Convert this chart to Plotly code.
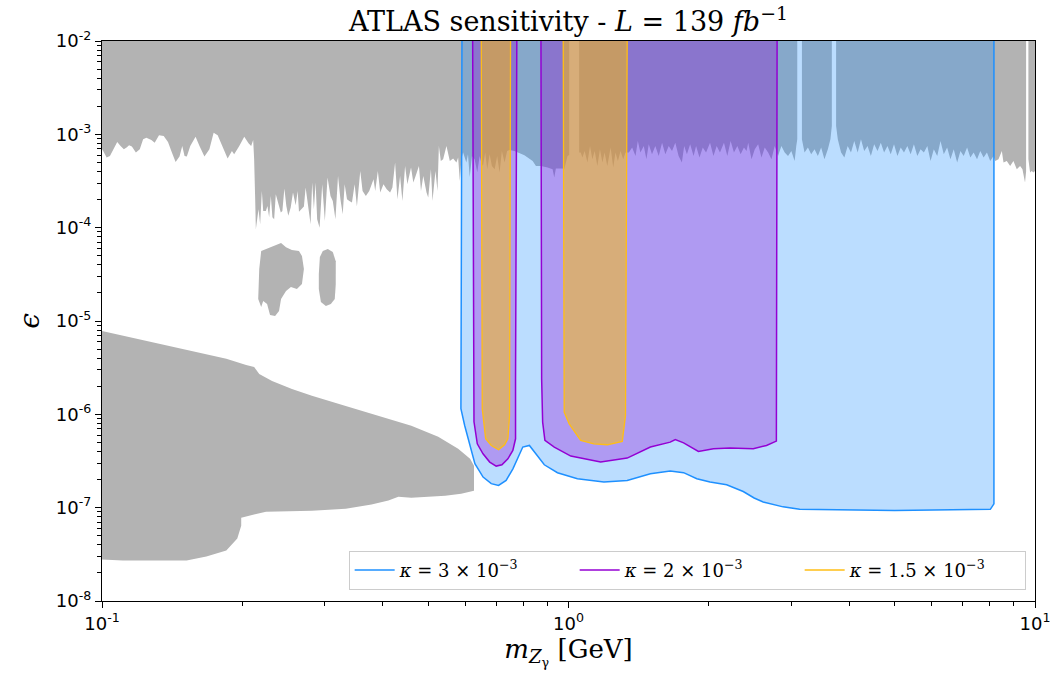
import plotly.graph_objects as go

# ---------------- data (mass in GeV, epsilon) ----------------
EPS_TOP = 1e-2

# upper edge of the existing exclusion (grey), read left to right
excl_boundary = [
    (0.1000, 6.91e-4), (0.1006, 6.63e-4), (0.1023, 5.63e-4), (0.1040, 5.86e-4), (0.1057, 6.91e-4),
    (0.1078, 8.27e-4), (0.1096, 7.50e-4), (0.1114, 6.91e-4), (0.1129, 7.21e-4), (0.1143, 7.63e-4),
    (0.1159, 7.39e-4), (0.1182, 6.37e-4), (0.1205, 6.91e-4), (0.1225, 8.84e-4), (0.1245, 9.22e-4),
    (0.1276, 8.69e-4), (0.1297, 8.15e-4), (0.1325, 9.76e-4), (0.1356, 9.59e-4), (0.1385, 8.27e-4),
    (0.1408, 6.63e-4), (0.1438, 5.05e-4), (0.1466, 5.77e-4), (0.1486, 7.50e-4), (0.1503, 5.86e-4),
    (0.1520, 5.77e-4), (0.1546, 7.50e-4), (0.1587, 9.45e-4), (0.1618, 7.50e-4), (0.1658, 5.77e-4),
    (0.1699, 6.91e-4), (0.1735, 1.042e-3), (0.1770, 9.76e-4), (0.1813, 7.21e-4), (0.1859, 5.50e-4),
    (0.1899, 6.63e-4), (0.1920, 6.11e-4), (0.1969, 7.50e-4), (0.2018, 9.45e-4), (0.2061, 8.01e-4),
    (0.2088, 7.50e-4), (0.2109, 8.69e-4), (0.2119, 5.40e-4), (0.2130, 2.00e-4), (0.2137, 9.64e-5),
    (0.2165, 1.58e-4), (0.2183, 1.09e-4), (0.2201, 2.47e-4), (0.2216, 1.51e-4), (0.2245, 1.51e-4),
    (0.2263, 1.71e-4), (0.2282, 1.29e-4), (0.2301, 2.19e-4), (0.2319, 1.29e-4), (0.2339, 1.23e-4),
    (0.2358, 2.28e-4), (0.2377, 1.93e-4), (0.2417, 1.45e-4), (0.2436, 1.51e-4), (0.2460, 2.63e-4),
    (0.2484, 1.71e-4), (0.2508, 1.34e-4), (0.2538, 1.64e-4), (0.2567, 2.38e-4), (0.2601, 1.74e-4),
    (0.2627, 2.47e-4), (0.2644, 1.48e-4), (0.2679, 1.58e-4), (0.2709, 1.69e-4), (0.2732, 2.69e-4),
    (0.2767, 1.71e-4), (0.2800, 1.09e-4), (0.2822, 3.04e-4), (0.2846, 1.58e-4), (0.2870, 3.04e-4),
    (0.2892, 1.23e-4), (0.2927, 1.00e-4), (0.2965, 2.92e-4), (0.3004, 1.18e-4), (0.3044, 3.44e-4),
    (0.3089, 2.19e-4), (0.3124, 1.93e-4), (0.3165, 1.23e-4), (0.3206, 3.58e-4), (0.3244, 2.02e-4),
    (0.3281, 1.39e-4), (0.3313, 2.92e-4), (0.3351, 2.02e-4), (0.3390, 1.93e-4), (0.3434, 1.86e-4),
    (0.3480, 2.92e-4), (0.3519, 1.69e-4), (0.3578, 4.05e-4), (0.3619, 2.47e-4), (0.3678, 2.19e-4),
    (0.3740, 2.47e-4), (0.3820, 3.30e-4), (0.3852, 2.47e-4), (0.3902, 4.05e-4), (0.3948, 2.38e-4),
    (0.4012, 2.92e-4), (0.4077, 2.58e-4), (0.4146, 2.38e-4), (0.4193, 2.69e-4), (0.4249, 4.98e-4),
    (0.4298, 2.02e-4), (0.4355, 3.58e-4), (0.4405, 1.93e-4), (0.4464, 4.58e-4), (0.4514, 2.92e-4),
    (0.4597, 4.40e-4), (0.4649, 3.04e-4), (0.4702, 3.58e-4), (0.4780, 4.58e-4), (0.4828, 2.47e-4),
    (0.4883, 3.58e-4), (0.4962, 2.38e-4), (0.5004, 2.10e-4), (0.5071, 4.22e-4), (0.5110, 1.93e-4),
    (0.5186, 4.05e-4), (0.5238, 2.47e-4), (0.5274, 7.50e-4), (0.5325, 5.18e-4), (0.5386, 5.40e-4),
    (0.5475, 7.50e-4), (0.5567, 5.18e-4), (0.5658, 5.50e-4), (0.5751, 4.98e-4), (0.5800, 5.63e-4),
    (0.5848, 3.17e-4), (0.5894, 5.40e-4), (0.5943, 6.42e-4), (0.6039, 4.98e-4), (0.6089, 6.11e-4),
    (0.6141, 3.47e-4), (0.6210, 5.86e-4), (0.6292, 5.40e-4), (0.6374, 3.92e-4), (0.6450, 5.86e-4),
    (0.6501, 4.98e-4), (0.6555, 4.58e-4), (0.6630, 6.37e-4), (0.6696, 4.22e-4), (0.6775, 6.11e-4),
    (0.6852, 4.58e-4), (0.6944, 4.22e-4), (0.7033, 5.86e-4), (0.7116, 3.89e-4), (0.7197, 6.63e-4),
    (0.7294, 4.98e-4), (0.7387, 6.63e-4), (0.7476, 6.79e-4), (0.7660, 6.63e-4), (0.8045, 5.96e-4),
    (0.8379, 5.18e-4), (0.8517, 4.58e-4), (0.8728, 4.58e-4), (0.9020, 4.40e-4), (0.9245, 4.22e-4),
    (0.9322, 3.44e-4), (0.9395, 4.30e-4), (0.9710, 4.30e-4), (0.9790, 4.22e-4), (0.9952, 5.86e-4),
    (1.0034, 6.00e-4),
    (1.054, 6.37e-4), (1.062, 6.37e-4), (1.071, 5.63e-4), (1.083, 6.63e-4), (1.098, 4.98e-4),
    (1.112, 7.50e-4), (1.125, 5.40e-4), (1.138, 6.63e-4), (1.153, 4.58e-4), (1.168, 6.91e-4),
    (1.182, 4.98e-4), (1.195, 6.37e-4), (1.211, 4.58e-4), (1.231, 7.21e-4), (1.247, 4.40e-4),
    (1.261, 6.37e-4), (1.276, 5.18e-4), (1.293, 6.63e-4), (1.310, 5.40e-4), (1.325, 6.37e-4),
    (1.347, 6.37e-4), (1.369, 7.21e-4), (1.392, 5.86e-4), (1.408, 8.48e-4), (1.426, 6.37e-4),
    (1.450, 7.50e-4), (1.469, 5.40e-4), (1.486, 7.82e-4), (1.510, 6.11e-4), (1.535, 7.50e-4),
    (1.561, 5.86e-4), (1.587, 8.15e-4), (1.613, 6.11e-4), (1.640, 7.50e-4), (1.667, 6.63e-4),
    (1.694, 8.15e-4), (1.722, 5.86e-4), (1.750, 4.98e-4), (1.770, 7.50e-4), (1.794, 6.11e-4),
    (1.823, 7.82e-4), (1.854, 5.86e-4), (1.877, 7.50e-4), (1.909, 5.63e-4), (1.940, 7.21e-4),
    (1.972, 6.37e-4), (2.011, 8.15e-4), (2.045, 5.86e-4), (2.078, 7.50e-4), (2.112, 6.37e-4),
    (2.154, 8.15e-4), (2.190, 5.86e-4), (2.226, 8.48e-4), (2.263, 6.37e-4), (2.301, 7.50e-4),
    (2.339, 6.11e-4), (2.377, 7.21e-4), (2.408, 6.63e-4), (2.428, 8.15e-4), (2.468, 5.40e-4),
    (2.508, 6.91e-4), (2.550, 7.82e-4), (2.592, 5.63e-4), (2.634, 7.21e-4), (2.679, 6.37e-4),
    (2.723, 5.40e-4), (2.767, 7.50e-4), (2.813, 5.86e-4), (2.860, 7.50e-4), (2.907, 6.37e-4),
    (2.955, 5.86e-4), (3.004, 6.63e-4), (3.053, 5.18e-4), (3.078, 7.50e-4), (3.093, 8.84e-4),
    (3.165, 8.84e-4), (3.206, 6.37e-4), (3.260, 7.21e-4), (3.313, 6.11e-4), (3.368, 6.91e-4),
    (3.424, 5.86e-4), (3.480, 7.21e-4), (3.537, 5.40e-4), (3.597, 6.91e-4), (3.643, 8.84e-4),
    (3.668, 1.23e-3),
    (3.747, 1.23e-3), (3.778, 8.84e-4), (3.840, 6.37e-4), (3.902, 5.63e-4), (3.967, 7.50e-4),
    (4.032, 6.37e-4), (4.098, 8.48e-4), (4.167, 6.37e-4), (4.236, 8.84e-4), (4.304, 6.63e-4),
    (4.376, 7.50e-4), (4.448, 5.86e-4), (4.521, 7.82e-4), (4.597, 6.63e-4), (4.672, 8.15e-4),
    (4.748, 6.37e-4), (4.828, 7.50e-4), (4.906, 6.11e-4), (4.986, 7.82e-4), (5.071, 5.86e-4),
    (5.154, 7.21e-4), (5.238, 6.37e-4), (5.325, 7.50e-4), (5.413, 6.11e-4), (5.501, 7.82e-4),
    (5.594, 5.86e-4), (5.686, 6.91e-4), (5.779, 6.37e-4), (5.877, 7.50e-4), (5.972, 5.18e-4),
    (6.069, 6.91e-4), (6.172, 5.86e-4), (6.272, 8.48e-4), (6.375, 6.11e-4), (6.481, 7.21e-4),
    (6.588, 5.40e-4), (6.696, 6.91e-4), (6.810, 4.98e-4), (6.921, 6.63e-4), (7.033, 5.86e-4),
    (7.152, 7.21e-4), (7.268, 5.63e-4), (7.387, 6.37e-4), (7.512, 5.40e-4), (7.634, 6.63e-4),
    (7.760, 5.63e-4), (7.889, 6.37e-4), (8.017, 5.18e-4), (8.149, 5.86e-4), (8.216, 5.18e-4),
    (8.350, 5.40e-4), (8.490, 6.63e-4), (8.560, 4.98e-4), (8.700, 5.18e-4), (8.846, 4.58e-4),
    (8.990, 5.18e-4), (9.140, 4.22e-4), (9.290, 4.58e-4), (9.400, 4.22e-4), (9.520, 3.04e-4),
    (9.570, 4.00e-4),
    (9.680, 5.40e-4), (9.760, 3.89e-4), (9.840, 4.05e-4), (9.920, 3.89e-4), (10.00, 4.05e-4),
]
# narrow mass windows (resonances) not covered by the grey exclusion
excl_gaps = [(1.0034, 1.054), (3.093, 3.165), (3.668, 3.747), (9.57, 9.68)]

# isolated excluded islands around 1e-5
island_a = [
    (0.2162, 1.72e-5), (0.2173, 3.60e-5), (0.2194, 5.61e-5), (0.2248, 5.89e-5), (0.2303, 6.18e-5),
    (0.2361, 6.50e-5), (0.2420, 6.83e-5), (0.2480, 6.18e-5), (0.2553, 5.75e-5), (0.2644, 5.61e-5),
    (0.2683, 4.96e-5), (0.2709, 3.60e-5), (0.2683, 2.49e-5), (0.2617, 2.20e-5), (0.2541, 2.31e-5),
    (0.2480, 2.09e-5), (0.2420, 1.72e-5), (0.2396, 1.28e-5), (0.2350, 1.13e-5), (0.2292, 1.16e-5),
    (0.2259, 1.52e-5), (0.2216, 1.64e-5), (0.2194, 1.41e-5),
]
island_b = [
    (0.2916, 3.18e-5), (0.2931, 4.84e-5), (0.2974, 5.61e-5), (0.3048, 5.89e-5), (0.3124, 5.47e-5),
    (0.3170, 4.38e-5), (0.3170, 2.49e-5), (0.3155, 1.72e-5), (0.3094, 1.52e-5), (0.3019, 1.45e-5),
    (0.2946, 1.60e-5), (0.2916, 2.20e-5),
]
# low-epsilon (beam dump) exclusion
beam_dump = [
    (0.1000, 7.82e-6), (0.1164, 6.58e-6), (0.1396, 5.41e-6), (0.1595, 4.66e-6), (0.1847, 3.93e-6),
    (0.2037, 3.38e-6), (0.2119, 3.22e-6), (0.2173, 2.71e-6), (0.2315, 2.28e-6), (0.2554, 1.87e-6),
    (0.2818, 1.58e-6), (0.3330, 1.23e-6), (0.3915, 9.64e-7), (0.4603, 7.54e-7), (0.5257, 5.74e-7),
    (0.5800, 4.27e-7), (0.6152, 3.34e-7), (0.6272, 2.81e-7), (0.6272, 1.52e-7), (0.5886, 1.41e-7),
    (0.5441, 1.34e-7), (0.4603, 1.28e-7), (0.4318, 1.31e-7), (0.4111, 1.19e-7), (0.3782, 1.08e-7),
    (0.3330, 9.76e-8), (0.2818, 9.29e-8), (0.2247, 9.06e-8), (0.1988, 7.82e-8), (0.1988, 6.42e-8),
    (0.1950, 4.66e-8), (0.1847, 3.47e-8), (0.1674, 2.99e-8), (0.1518, 2.71e-8), (0.1109, 2.71e-8),
    (0.1000, 2.78e-8),
]

# ATLAS sensitivity regions
kappa_3e3 = [
    (0.591, 1e-2), (0.588, 1.15e-6), (0.599, 7.6e-7), (0.614, 4.64e-7), (0.630, 2.96e-7),
    (0.656, 2.13e-7), (0.683, 1.81e-7), (0.708, 1.73e-7), (0.735, 1.96e-7), (0.760, 2.61e-7),
    (0.779, 3.48e-7), (0.798, 4.46e-7), (0.8245, 4.64e-7), (0.852, 3.78e-7), (0.8875, 2.88e-7),
    (0.947, 2.37e-7), (1.045, 2.04e-7), (1.191, 1.88e-7), (1.336, 1.96e-7), (1.498, 2.31e-7),
    (1.652, 2.47e-7), (1.765, 2.37e-7), (1.884, 2.04e-7), (2.011, 1.88e-7), (2.183, 1.76e-7),
    (2.369, 1.49e-7), (2.50, 1.27e-7), (2.614, 1.15e-7), (2.884, 1.02e-7), (3.13, 9.6e-8),
    (5.0, 9.35e-8), (8.02, 9.6e-8), (8.165, 1.1e-7), (8.165, 1e-2),
]
kappa_2e3_a = [
    (0.6231, 1e-2), (0.6272, 8.32e-7), (0.6375, 4.83e-7), (0.6558, 3.78e-7), (0.6778, 3.08e-7),
    (0.6998, 2.79e-7), (0.7199, 2.88e-7), (0.7414, 3.34e-7), (0.7598, 4.10e-7), (0.7700, 5.47e-7),
    (0.7700, 2.4e-6), (0.7748, 1e-2),
]
kappa_2e3_b = [
    (0.8729, 1e-2), (0.8758, 2.40e-6), (0.8802, 8.26e-7), (0.8901, 5.25e-7), (0.9322, 4.46e-7),
    (1.0114, 3.57e-7), (1.172, 3.08e-7), (1.336, 3.40e-7), (1.498, 4.46e-7), (1.652, 5.04e-7),
    (1.694, 5.37e-7), (1.765, 4.95e-7), (1.899, 4.00e-7), (2.045, 4.28e-7), (2.218, 4.35e-7),
    (2.489, 4.28e-7), (2.657, 4.64e-7), (2.790, 5.17e-7), (2.800, 1e-2),
]
kappa_15e4_a = [
    (0.6501, 1e-2), (0.6533, 1.145e-6), (0.6644, 5.47e-7), (0.6831, 4.64e-7), (0.7083, 4.17e-7),
    (0.7294, 4.72e-7), (0.7414, 5.47e-7), (0.7476, 9.70e-7), (0.7512, 1e-2),
]
kappa_15e4_b = [
    (0.9743, 1e-2), (0.979, 1.055e-6), (1.0034, 7.91e-7), (1.062, 5.25e-7), (1.134, 4.83e-7),
    (1.211, 4.72e-7), (1.304, 5.12e-7), (1.325, 9.70e-7), (1.336, 1e-2),
]

legend_labels = [
    "<i>κ</i> = 3 × 10<sup>−3</sup>",
    "<i>κ</i> = 2 × 10<sup>−3</sup>",
    "<i>κ</i> = 1.5 × 10<sup>−3</sup>",
]

# ---------------- styling ----------------
GREY = "#b3b3b3"
BLUE, BLUE_FILL = "rgb(30,144,255)", "rgba(30,144,255,0.3)"
PURPLE, PURPLE_FILL = "rgb(148,0,211)", "rgba(148,0,211,0.3)"
ORANGE, ORANGE_FILL = "rgb(255,190,20)", "rgba(255,192,0,0.5)"
SERIF = "DejaVu Serif, Liberation Serif, serif"
SANS = "DejaVu Sans, sans-serif"

fig = go.Figure()


def unzip(pts):
    return [p[0] for p in pts], [p[1] for p in pts]


def poly(pts, fill, line=None, width=0):
    x, y = unzip(pts)
    fig.add_trace(go.Scatter(
        x=x, y=y, mode="lines", fill="toself", fillcolor=fill,
        line=dict(color=line or fill, width=width),
        hoverinfo="skip", showlegend=False))


# grey exclusion from above, split at the resonance windows
edges = [excl_boundary[0][0]] + [v for g in excl_gaps for v in g] + [excl_boundary[-1][0]]
for lo, hi in zip(edges[0::2], edges[1::2]):
    seg = [p for p in excl_boundary if lo <= p[0] <= hi]
    poly([(lo, EPS_TOP)] + seg + [(hi, EPS_TOP)], GREY)

poly(island_a, GREY)
poly(island_b, GREY)
poly(beam_dump, GREY)

poly(kappa_3e3, BLUE_FILL, BLUE, 1.5)
poly(kappa_2e3_a, PURPLE_FILL, PURPLE, 1.5)
poly(kappa_2e3_b, PURPLE_FILL, PURPLE, 1.5)
poly(kappa_15e4_a, ORANGE_FILL, ORANGE, 1.3)
poly(kappa_15e4_b, ORANGE_FILL, ORANGE, 1.3)

for lab, col in zip(legend_labels, [BLUE, PURPLE, ORANGE]):
    fig.add_trace(go.Scatter(x=[None], y=[None], mode="lines", name=lab,
                             line=dict(color=col, width=1.5)))

x_minor = [k * 10.0 ** p for p in (-1, 0) for k in range(2, 10)]
y_minor = [k * 10.0 ** p for p in range(-8, -2) for k in range(2, 10)]

axis_common = dict(
    showline=True, linecolor="black", linewidth=1.2, mirror=True,
    ticks="outside", ticklen=6, tickwidth=1.2, tickcolor="black",
    showgrid=False, zeroline=False,
    tickfont=dict(family=SANS, size=18, color="black"),
)

fig.update_xaxes(
    type="log", range=[-1, 1],
    tickmode="array", tickvals=[0.1, 1, 10],
    ticktext=["10<sup>-1</sup>", "10<sup>0</sup>", "10<sup>1</sup>"],
    minor=dict(tickmode="array", tickvals=x_minor, ticks="outside", ticklen=3.5,
               tickwidth=1, tickcolor="black", showgrid=False),
    title=dict(text="<i>m</i><sub><i>Z</i><sub>γ</sub></sub> [GeV]",
               font=dict(family=SERIF, size=26, color="black"), standoff=6),
    **axis_common,
)
fig.update_yaxes(
    type="log", range=[-8, -2],
    tickmode="array", tickvals=[10.0 ** p for p in range(-8, -1)],
    ticktext=["10<sup>-%d</sup>" % -p for p in range(-8, -1)],
    minor=dict(tickmode="array", tickvals=y_minor, ticks="outside", ticklen=3.5,
               tickwidth=1, tickcolor="black", showgrid=False),
    title=dict(text="<i>ϵ</i>", font=dict(family=SERIF, size=28, color="black"), standoff=8),
    **axis_common,
)

fig.update_layout(
    width=1062, height=680,
    margin=dict(l=102, r=22, t=41, b=79),
    plot_bgcolor="white", paper_bgcolor="white",
    title=dict(text="ATLAS sensitivity - <i>L</i> = 139 <i>fb</i><sup>−1</sup>",
               x=0.5, xref="paper", xanchor="center", y=0.982, yref="container",
               font=dict(family=SERIF, size=27, color="black")),
    legend=dict(orientation="h", x=0.99, xanchor="right", y=0.02, yanchor="bottom",
                bgcolor="rgba(255,255,255,0.85)", bordercolor="#cccccc", borderwidth=1,
                font=dict(family=SERIF, size=18, color="black"),
                entrywidth=170, entrywidthmode="pixels", itemwidth=40),
    showlegend=True,
)

fig.write_html("out.html")
